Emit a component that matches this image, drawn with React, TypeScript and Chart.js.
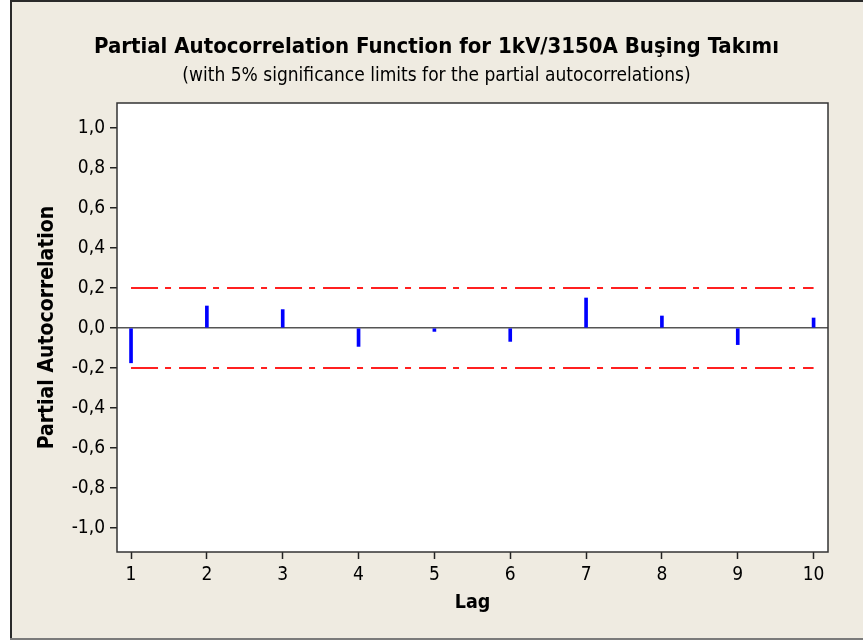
import React, { useEffect, useRef } from 'react';
import { Chart, registerables } from 'chart.js';

Chart.register(...registerables);

const TITLE = 'Partial Autocorrelation Function for 1kV/3150A Buşing Takımı';
const SUBTITLE = '(with 5% significance limits for the partial autocorrelations)';
const X_TITLE = 'Lag';
const Y_TITLE = 'Partial Autocorrelation';

const LAGS = [1, 2, 3, 4, 5, 6, 7, 8, 9, 10];
const PACF = [-0.174, 0.11, 0.092, -0.092, -0.017, -0.067, 0.15, 0.06, -0.083, 0.05];
const LIMIT_LAGS = [1, 10];
const UPPER_LIMIT = [0.2, 0.2];
const LOWER_LIMIT = [-0.2, -0.2];
const Y_TICKS = [-1, -0.8, -0.6, -0.4, -0.2, 0, 0.2, 0.4, 0.6, 0.8, 1];
const X_TICKS = LAGS;

const FONT = "'DejaVu Sans Condensed', 'DejaVu Sans', sans-serif";
const BEIGE = '#EFEBE1';

const framePlugin = {
  id: 'frame',
  beforeDraw(chart: any) {
    const { ctx, width, height, chartArea } = chart;
    ctx.save();
    ctx.fillStyle = '#FFFFFF';
    ctx.fillRect(0, 0, width, height);
    ctx.fillStyle = BEIGE;
    ctx.fillRect(10, 0, width - 10, 640);
    ctx.fillStyle = '#FFFFFF';
    ctx.fillRect(chartArea.left, chartArea.top, chartArea.right - chartArea.left, chartArea.bottom - chartArea.top);
    ctx.restore();
  },
  afterDraw(chart: any) {
    const { ctx, width, chartArea } = chart;
    ctx.save();
    ctx.strokeStyle = '#333333';
    ctx.lineWidth = 1.5;
    ctx.strokeRect(chartArea.left, chartArea.top, chartArea.right - chartArea.left, chartArea.bottom - chartArea.top);
    ctx.strokeStyle = '#2A2A2A';
    ctx.lineWidth = 2;
    ctx.beginPath();
    ctx.moveTo(10, 1);
    ctx.lineTo(width, 1);
    ctx.moveTo(11, 0);
    ctx.lineTo(11, 640);
    ctx.stroke();
    ctx.strokeStyle = '#7A7A7A';
    ctx.beginPath();
    ctx.moveTo(10, 639);
    ctx.lineTo(width, 639);
    ctx.stroke();
    ctx.restore();
  },
};

export default function App() {
  const ref = useRef<HTMLCanvasElement | null>(null);

  useEffect(() => {
    if (!ref.current) return;
    const chart = new Chart(ref.current, {
      type: 'bar',
      data: {
        datasets: [
          {
            type: 'bar',
            label: 'PACF',
            data: LAGS.map((l, i) => ({ x: l, y: PACF[i] })),
            backgroundColor: '#0000FF',
            borderWidth: 0,
            barThickness: 3,
            xAxisID: 'x',
            yAxisID: 'y',
          } as any,
          {
            type: 'line',
            label: 'Upper limit',
            data: LIMIT_LAGS.map((l, i) => ({ x: l, y: UPPER_LIMIT[i] })),
            borderColor: '#FF2020',
            borderWidth: 2,
            borderDash: [27, 7, 6, 8],
            pointRadius: 0,
            fill: false,
            xAxisID: 'x',
            yAxisID: 'y',
          } as any,
          {
            type: 'line',
            label: 'Lower limit',
            data: LIMIT_LAGS.map((l, i) => ({ x: l, y: LOWER_LIMIT[i] })),
            borderColor: '#FF2020',
            borderWidth: 2,
            borderDash: [27, 7, 6, 8],
            pointRadius: 0,
            fill: false,
            xAxisID: 'x',
            yAxisID: 'y',
          } as any,
        ],
      },
      options: {
        animation: false,
        responsive: false,
        maintainAspectRatio: false,
        devicePixelRatio: 1,
        layout: { padding: { left: 10, right: 0, top: 0, bottom: 0 } },
        plugins: {
          legend: { display: false },
          tooltip: { enabled: false },
          title: {
            display: true,
            text: TITLE,
            color: '#000000',
            font: { family: FONT, size: 22, weight: 'bold', lineHeight: 1.2 },
            padding: { top: 34, bottom: 0 },
          },
          subtitle: {
            display: true,
            text: SUBTITLE,
            color: '#000000',
            font: { family: FONT, size: 19, weight: 'normal', lineHeight: 1.2 },
            padding: { top: 4, bottom: 15.8 },
          },
        },
        scales: {
          x: {
            type: 'linear',
            position: 'bottom',
            min: 0.815,
            max: 10.19,
            offset: false,
            afterBuildTicks: (scale: any) => {
              scale.ticks = X_TICKS.map((v) => ({ value: v }));
            },
            afterFit: (scale: any) => {
              scale.height = 92;
            },
            ticks: {
              color: '#000000',
              font: { family: FONT, size: 19 },
              padding: 5,
              maxRotation: 0,
              autoSkip: false,
              callback: (v: any) => String(v),
            },
            grid: {
              display: true,
              drawOnChartArea: false,
              drawTicks: true,
              offset: false,
              tickLength: 7,
              tickColor: '#222222',
              tickWidth: 1.5,
            },
            border: { display: false },
            title: {
              display: true,
              text: X_TITLE,
              color: '#000000',
              font: { family: FONT, size: 19.5, weight: 'bold', lineHeight: 1.2 },
              padding: { top: 0, bottom: 29 },
            },
          },
          y: {
            type: 'linear',
            position: 'left',
            min: -1.12,
            max: 1.125,
            afterBuildTicks: (scale: any) => {
              scale.ticks = Y_TICKS.map((v) => ({ value: v }));
            },
            afterFit: (scale: any) => {
              scale.width = 107;
            },
            ticks: {
              color: '#000000',
              font: { family: FONT, size: 19 },
              padding: 5,
              autoSkip: false,
              callback: (v: any) => Number(v).toFixed(1).replace('.', ','),
            },
            grid: {
              display: true,
              drawOnChartArea: true,
              drawTicks: true,
              tickLength: 7,
              color: (c: any) => (c.tick && c.tick.value === 0 ? '#555555' : 'rgba(0,0,0,0)'),
              lineWidth: 1.5,
              tickColor: '#222222',
              tickWidth: 1.5,
            },
            border: { display: false },
            title: {
              display: true,
              text: Y_TITLE,
              color: '#000000',
              font: { family: FONT, size: 21, weight: 'bold', lineHeight: 1.2 },
              padding: { top: 25.4, bottom: 0 },
            },
          },
          spacer: {
            type: 'linear',
            position: 'right',
            display: true,
            afterFit: (scale: any) => {
              scale.width = 35;
            },
            ticks: { display: false },
            grid: { display: false },
            border: { display: false },
          },
        },
      } as any,
      plugins: [framePlugin],
    });
    return () => chart.destroy();
  }, []);

  return (
    <div style={{ position: 'fixed', left: 0, top: 0, width: 863, height: 644 }}>
      <canvas ref={ref} width={863} height={644} style={{ display: 'block', width: 863, height: 644 }} />
    </div>
  );
}
